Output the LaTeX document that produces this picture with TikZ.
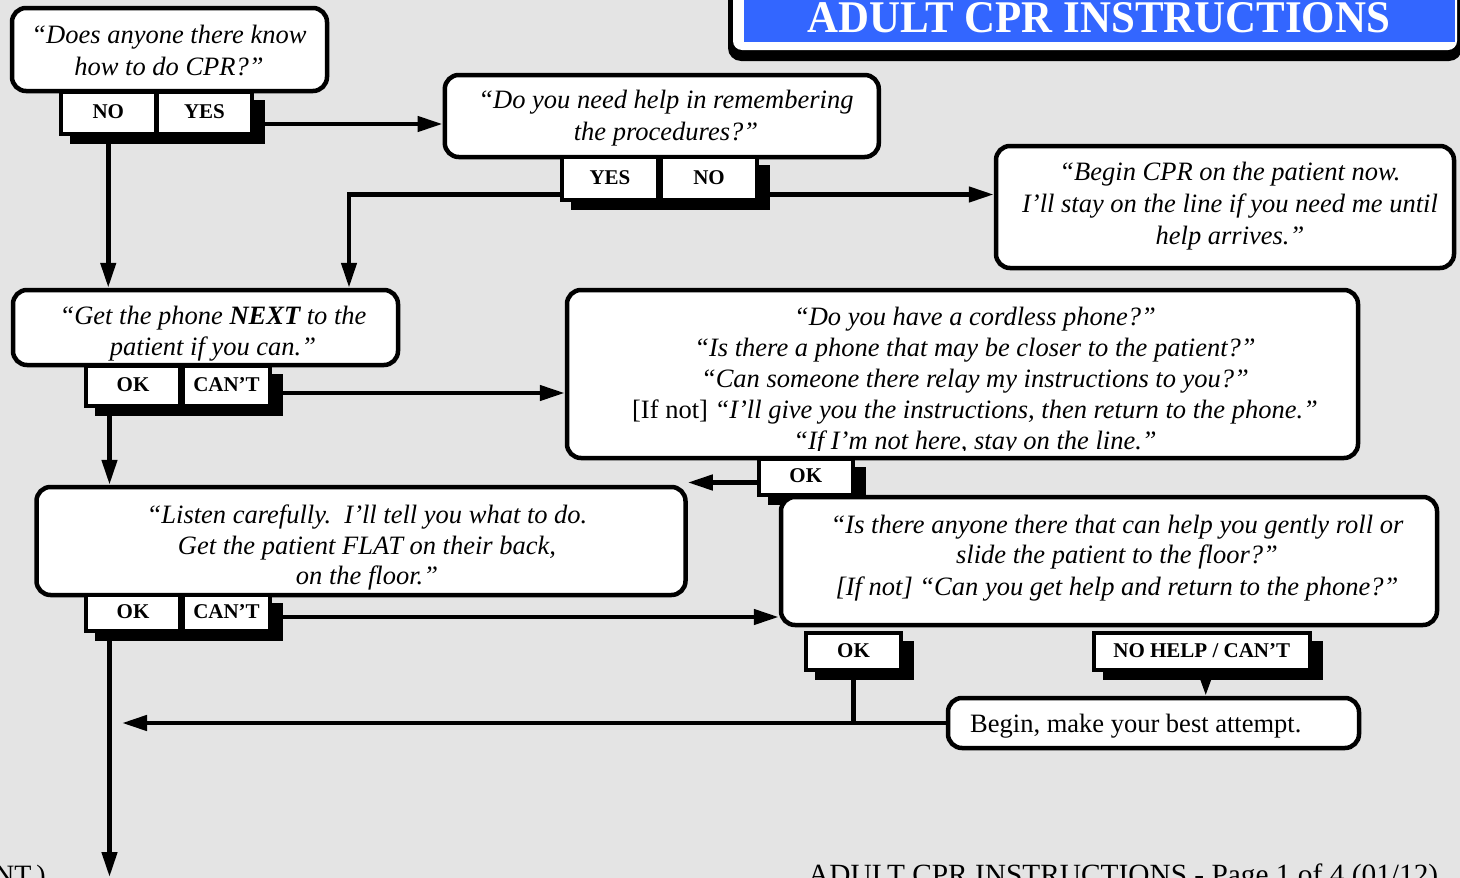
\documentclass[tikz,border=0pt]{standalone}
\usepackage{fontspec}
\setmainfont{Liberation Serif}
\usepackage{graphicx}
\usetikzlibrary{arrows.meta}
\definecolor{bgc}{RGB}{228,228,228}
\definecolor{titleblue}{RGB}{51,102,255}
\newcommand\sayfont[1]{\fontsize{26.5}{#1}\selectfont\itshape}
\tikzset{
  box/.style={draw=black, line width=4.5pt, fill=white, rounded corners=14pt, inner sep=0pt},
  btn/.style={draw=black, line width=4pt, fill=white, inner sep=0pt,
    font=\fontsize{21}{21}\selectfont\bfseries, text height=14pt, text depth=3pt},
  say/.style={inner sep=0pt, align=center, font=\sayfont{#1},
    execute at begin node=\strut, execute at end node=\strut},
  say/.default=31,
  conn/.style={line width=4.5pt},
  arr/.style={line width=4.5pt, -{Triangle[length=25pt,width=15pt]}},
  tri/.style={line width=4pt, -{Triangle[length=18pt,width=11pt]}},
}
\newcommand\mybtn[6]{%
  \fill[black] (#2+9,#3+8) rectangle (#4+13,#5+10);
  \node[btn, minimum width=#4-#2, minimum height=#5-#3] (#1) at ({(#2+#4)/2},{(#3+#5)/2}) {#6};}
\begin{document}
\begin{tikzpicture}[x=1pt,y=-1pt]
\useasboundingbox (0,0) rectangle (1460,878);
\fill[bgc] (0,0) rectangle (1460,878);
% title
\fill[black, rounded corners=13pt] (728,-30) rectangle (1462,61);
\fill[white, rounded corners=9pt] (733,-30) rectangle (1457,50);
\fill[titleblue] (744,-30) rectangle (1455,42);
\node[inner sep=0pt, anchor=base, text=white] (title) at (1099,32)
  {\resizebox{582pt}{30pt}{\bfseries ADULT CPR INSTRUCTIONS}};

% box A
\node[box, minimum width=315pt, minimum height=83pt] (A) at (169.5,49.5) {};
\node[say=32] (At) at (169,55.6) {“Does anyone there know\\how to do CPR?”};
\mybtn{Ano}{60.5}{92}{156}{134}{NO}
\mybtn{Ayes}{157}{92}{252}{134}{YES}

% box B
\node[box, minimum width=434pt, minimum height=82pt] (B) at (661.8,116) {};
\node[say=32] (Bt) at (666,119.8) {“Do you need help in remembering\\the procedures?”};
\mybtn{Byes}{562}{157}{658}{200}{YES}
\mybtn{Bno}{661}{157}{757}{200}{NO}

% box C
\node[box, minimum width=458pt, minimum height=122pt] (C) at (1225,207) {};
\node[say=32] (Ct) at (1230,208.5) {“Begin CPR on the patient now.\\I’ll stay on the line if you need me until\\help arrives.”};

% box D
\node[box, minimum width=385pt, minimum height=75pt] (D) at (205.5,327.5) {};
\node[say=31] (Dt) at (213,335.5) {“Get the phone \textbf{NEXT} to the\\patient if you can.”};
\mybtn{Dok}{86}{366}{180}{406}{OK}
\mybtn{Dcant}{183}{366}{270}{406}{CAN’T}

% box E
\node[box, minimum width=791pt, minimum height=168pt] (E) at (962.5,374) {};
\begin{scope}
\clip (567,290) rectangle (1358,450);
\node[say=31] (Et) at (975,382.5) {“Do you have a cordless phone?”\\“Is there a phone that may be closer to the patient?”\\“Can someone there relay my instructions to you?”\\\textup{[If not]} “I’ll give you the instructions, then return to the phone.”\\“If I’m not here, stay on the line.”};
\end{scope}
\mybtn{Eok}{758.5}{459}{853}{495}{OK}

% box F
\node[box, minimum width=649pt, minimum height=108pt] (F) at (361,541) {};
\node[say=30.5] (Ft) at (367,549.5) {“Listen carefully.\ \ I’ll tell you what to do.\\Get the patient FLAT on their back,\\on the floor.”};
\mybtn{Fok}{86}{595}{180}{631}{OK}
\mybtn{Fcant}{183}{595}{270}{631}{CAN’T}

% box G
\node[box, minimum width=656pt, minimum height=128pt] (G) at (1109,561) {};
\node[say=30] (Gt) at (1117,559.5) {“Is there anyone there that can help you gently roll or\\slide the patient to the floor?”\\[2pt][If not] “Can you get help and return to the phone?”};
\mybtn{Gok}{806}{633}{901}{670}{OK}
\mybtn{Gnh}{1093.5}{633}{1310}{670}{NO HELP / CAN’T}

% box H
\node[box, minimum width=411pt, minimum height=50pt] (H) at (1153.5,723) {};
\node[anchor=base west, inner sep=0pt, font=\fontsize{26.5}{30}\selectfont] (Ht) at (970,732) {Begin, make your best attempt.};

% connectors
\draw[arr] (Ano.south) -- (Ano.south |- D.north);
\coordinate (ay) at ([yshift=-11pt]Ayes.east);
\draw[arr] (ay) -- (ay -| B.west);
\coordinate (by) at ([yshift=-16pt]Byes.west);
\coordinate (dtop) at ([xshift=143.5pt]D.north);
\draw[arr] (by) -| (dtop);
\coordinate (bn) at ([yshift=-16pt]Bno.east);
\draw[arr] (bn) -- (bn -| C.west);
\coordinate (dc) at ([yshift=-7pt]Dcant.east);
\draw[arr] (dc) -- (dc -| E.west);
\coordinate (dk) at ([xshift=-23.5pt]Dok.south);
\draw[arr] (dk) -- (dk |- F.north);
\coordinate (ek) at ([yshift=-5.5pt]Eok.west);
\draw[arr] (ek) -- (ek -| F.east);
\coordinate (fc) at ([yshift=-4pt]Fcant.east);
\draw[arr] (fc) -- (fc -| G.west);
\coordinate (fk) at ([xshift=-23.5pt]Fok.south);
\coordinate (fend) at (109.5,877);
\draw[arr] (fk) -- (fend);
\draw[conn] (Gok.south) -- (Gok.south |- H.west);
\coordinate (hend) at (122,723);
\draw[arr] (H.west) -- (hend);
\coordinate (nh) at ([xshift=4pt]Gnh.south);
\draw[tri] (nh) -- (nh |- H.north);

% footer (cut off at page edge)
\node[anchor=base west, inner sep=0pt] (foot) at (808,884)
  {\resizebox{630pt}{!}{\fontsize{29}{29}\selectfont ADULT CPR INSTRUCTIONS - Page 1 of 4 (01/12)}};
\node[anchor=base east, inner sep=0pt, font=\fontsize{28}{28}\selectfont] (cont) at (46,884) {NT.)};
\end{tikzpicture}
\end{document}
